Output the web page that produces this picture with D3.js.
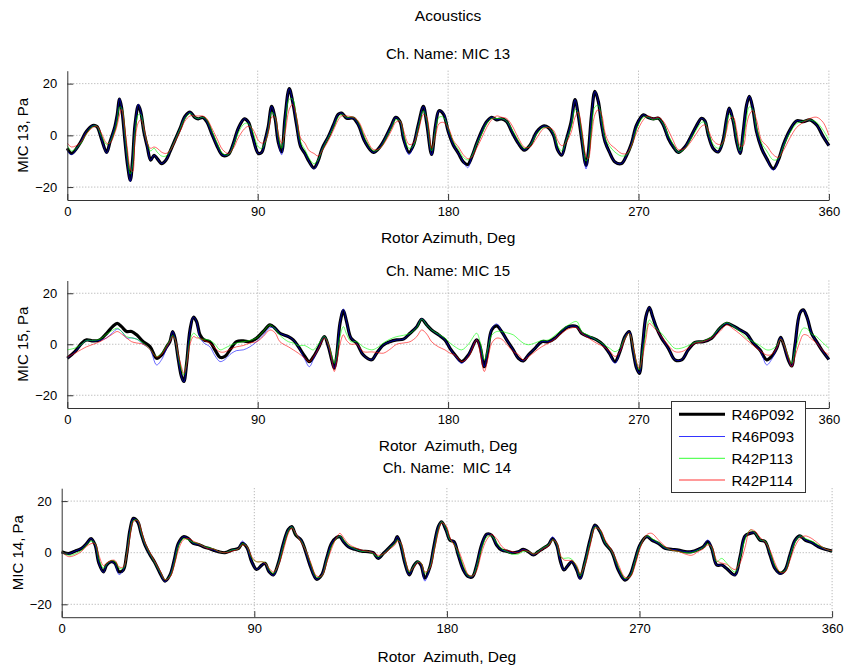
<!DOCTYPE html>
<html><head><meta charset="utf-8">
<script src="https://cdn.jsdelivr.net/npm/d3@7"></script>
<style>
body{margin:0;background:#fff}
text{font-family:"Liberation Sans",Arial,Helvetica,sans-serif;fill:#000}
</style>
</head><body>
<svg id="chart" width="848" height="666"></svg>
<script>
// ---------------- DATA ----------------
const seriesNames = ["R46P092","R46P093","R42P113","R42P114"];
const xTicks = [0,90,180,270,360];
const yTicks = [-20,0,20];

// MIC 13
const mic13Deg = [0,2,6,9,12,14,16,18.6,20.2,22.5,23.6,24.7,25.7,27.3,28.5,29.8,30.9,32,33.6,34.7,36.2,37.8,39.4,41,42.5,44.6,46.6,48.5,50.9,53.3,55.6,58,60.3,61.9,64,65.9,68.2,70.6,73.4,76.1,78.5,80.8,83.7,85.6,87.6,90.3,91.9,93.4,95,96.6,98.2,99.7,101.3,102.9,104.9,106.5,108.4,110.3,112.3,114.4,116.6,118.5,120.5,123.4,125.8,128.1,129.7,132.1,135.2,137.6,140.7,144.7,147.8,151,153.3,155.2,157.3,158.9,161.5,163.6,165.9,168.3,169.9,172.2,174.1,175.7,177.8,180.1,182.5,184.9,187.2,189.3,191.2,193.5,195.9,198.2,200.6,203,205.3,207.7,210.1,213.2,216,218.7,221.9,225,227.4,229.8,231.8,233.7,235.6,238.1,240,241.5,243.1,245.2,246.3,247.8,249.4,251,252.6,254.2,256.2,258.9,262,264.4,266.7,269.1,272.3,274.6,277,279.4,281.7,284.1,286.4,288.8,292,294.3,297.2,299.8,301.4,303,305.3,307.7,309.8,311.7,312.9,314.8,316.4,318,319.5,321.1,322.4,324,325.8,328.2,330.6,333.7,336.1,338.4,341.6,344.7,347.9,351,354.2,357.3,360];
const mic13R46P092 = [-5,-7,-3,1.5,3.8,3.4,-1,-6.6,-2.5,3.4, 8,14,10.5,-2.5,-11.6,-17.4,-9,4,11.6,9.2, 1.4,-4.4,-9.6,-7.7,-9,-10.9,-9.6,-6.4,-1.8,2.7, 7.3,9,6.9,6.4,6.9,5.3,0.8,-3.8,-7.7,-7.4, -3.1,2.7,6.4,5.1,-0.5,-7,-6.6,-2.2,3.4,11.2, 6.6,-2.5,-6.4,6.6,18.1,13.1,4,-4.4,-7,-10.3, -12.6,-10,-5,-0.5,4,8.2,8.6,6.6,6.6,4, -2.5,-6.6,-4.4,0.1,4,7,5.3,-1.2,-6.6,-3.8, 4,11.2,4.7,-7.4,4,9.5,8.2,1.4,-3.8,-7, -10.3,-11.3,-8.3,-3.1,1.7,5.3,7,6,6.4,5.3, 1.4,-3.1,-5.7,-3.8,1.4,3.6,3,0.1,-5.7,-7.7, -2.5,5,13.8,7.9,-1.2,-11.6,-6.4,7.9,17,13.1, 4,-2.5,-6.4,-10.3,-10.9,-7.7,-3.1,4,7.9,6.9, 6.4,6.6,4,-1.2,-4.4,-6.6,-4.4,-1.2,3.4,6.6, 5.6,0.1,-5.1,-6.4,-2.5,6.6,10.5,5.3,-2.5,-7, 1.4,11.8,15.1,10.5,1.4,-5.1,-9,-12.9,-9.6,-3.8, 2.1,5.6,5.3,6,4,-0.5,-4];
const mic13R46P093 = [-6,-7.5,-3,1.5,3.8,3.4,-1,-6.8,-2.5,3.4, 8,14.2,10.5,-2.5,-11.6,-17.8,-9,4,12,9.2, 1.4,-4.4,-9.6,-7.7,-9,-10.9,-9.6,-6.4,-1.8,2.7, 7.3,9,6.9,6.4,6.9,5.3,0.8,-3.8,-7.7,-7.4, -3.1,2.7,6.4,5.1,-0.5,-7,-6.6,-2.2,3.4,11.2, 6.6,-2.5,-7.5,6.6,18.1,13.1,4,-4.4,-7,-10.3, -13,-10,-5,-0.5,4,8.2,8.6,6.6,6.6,4, -2.5,-6.6,-4.4,0.1,4,7,5.3,-1.2,-7.5,-3.8, 4,11.2,4.7,-7.6,4,9.5,8.6,1.4,-3.8,-7, -10.3,-12.5,-8.3,-3.1,1.7,5.3,7,6,6.4,5.3, 1.4,-3.1,-5.7,-3.8,1.4,3.6,3,0.1,-5.7,-7.7, -2.5,5,13.8,7.9,-1.2,-13,-6.4,7.9,17,13.1, 4,-2.5,-6.4,-10.3,-10.9,-7.7,-3.1,4,7.9,6.9, 6.4,6.6,4,-1.2,-4.4,-6.6,-4.4,-1.2,3.4,6.6, 5.6,0.1,-5.1,-6.4,-2.5,6.6,10.5,5.3,-2.5,-7, 1.4,11.8,15.1,10.5,1.4,-5.1,-9,-13.5,-9.6,-3.8, 2.1,5.6,5.3,6,4,-0.5,-4];
const mic13R42P113 = [-4,-6,-3.5,0.5,3.5,3.5,0,-3.5,-2.5,2, 6,11,10.5,0,-9,-15,-11,1,8,8, 2,-3,-6,-5,-6.5,-8,-8,-6,-2,2.5, 6.5,8.5,7,6.5,7,6,2,-2.5,-7,-7.5, -4,1,4.5,4.5,1.5,-4.5,-5,-3,2,9, 7,0,-5,3,14,14,6,-2.5,-5.5,-9, -11,-9.5,-5.5,-1,3,7,8,7,7,5, -1,-6,-5,-0.5,3,6,5.5,0.5,-5,-4, 3,9.5,6,-6,2,7,7,2.5,-2.5,-5.5, -8.5,-9.5,-8,-3.5,0.5,4.5,6.5,6.5,6.5,5.5, 2.5,-2,-5,-4,0.5,3,3,1,-4,-6, -2.5,3,10,8.5,1,-10,-8,3,11,11.5, 6,-1,-4,-6.5,-8,-7.5,-4,2.5,7,7, 6,6.5,4.5,0,-3.5,-6.5,-5,-2,2,5, 5,1,-3.5,-5,-3,4,8,6,-1,-6, -2,7,11,10,3,-3,-6,-9.5,-9,-4.5, 1,4.5,5.5,6,5,2,-2];
const mic13R42P114 = [-3,-4.5,-3,0.5,3,3.5,1,-3,-3,1, 4,8,10,2,-6,-13,-14,-2,5,6, 3,-3,-5,-4.5,-5,-6.5,-7,-6,-2.5,1.5, 5.5,7.5,7.5,7.5,7.5,6.5,3,-1,-5.5,-7, -5,-1,2.5,3.5,2.5,-2,-3,-2.5,1,7, 7,1,-3,1,10,12,7,-1,-3,-6, -7,-8,-6,-2,2,6,7.5,7.5,7,5.5, 0,-5.5,-5,-1.5,2,5,5.5,2,-3.5,-3, 1.5,8,7,-5,0,4.5,5,3,-2,-4.5, -7.5,-9,-8.5,-5,-1,3,6,7.5,7,6.5, 4,-1,-4.5,-4.5,-1,2.5,3,2,-2,-4, -3,1,7,9,3,-8,-9,0,8,10, 8,1,-3,-5,-7,-7,-4,1,6,7.5, 6.5,7,5.5,2,-2,-5.5,-5,-3,0.5,3.5, 4,2,-2,-3.5,-3,2,6,7,2,-4, -4,4,8,9.5,6,-2,-4,-7.5,-8.5,-6, -1,3,5,6.5,7,5,0];

// MIC 15
const mic15Deg = [0,3.6,6.8,9.1,12.3,15.4,18.6,21.4,23.6,25.7,28,30.4,32.8,35.9,39.1,42.2,44.6,47,48.5,49.8,50.9,52.5,54,55.1,56.4,58,59.6,61.1,62.7,64.6,67.4,69.8,72.2,74.5,76.9,80,83.2,86.3,89.5,92.6,95.8,98.2,100.5,104.5,106.8,109.2,112.3,114.4,116.3,118.6,121.5,123.4,125,126.2,127.3,128.9,130.5,132,134.1,136.8,139.9,143.9,146.2,149.4,152.5,155.7,158.9,162,165.2,167.5,169.9,172.2,175.4,178.5,180.9,183.3,186.4,189.6,193.5,195.1,197.1,198.7,200.6,203,205.3,207.7,210.8,213.2,215.6,217.9,221.1,224.2,227.4,230.5,233.7,236.8,240.8,243.1,246.3,250.2,253.4,256.2,258.9,261.2,263.6,265.6,267.5,269.1,270.4,271.9,273.5,275.1,276.7,278.6,280.9,284.1,287.2,290.4,293.5,296.7,300.6,304.6,308.5,311.7,314.8,318,321.1,324.3,327.4,330.6,332.9,335.3,337.2,338.4,340.8,342.4,343.9,346.3,347.9,349.8,351.8,354.2,356.6,360];
const mic15R46P092 = [-5.5,-2.9,0.4,1.7,1.3,1.7,4.3,6.9,8.2,6.9, 5,5,3.7,1,-0.9,-5.5,-4.2,-0.9,1,5, 2.4,-6.1,-12.7,-14.6,-7.5,5.6,10.6,8.9,3.7,1.7, 1,-2.2,-5.1,-4.8,-2.2,1,1.3,1,2.4,5, 7.6,6.3,4.3,3,1.7,-0.9,-4.8,-6.8,-5,-1.6, 3,-0.9,-6.1,-9.4,-4.8,8.2,13.2,8.9,2.4,0.4, -4.2,-6.1,-3.5,-0.3,1,1.7,2,4.3,6.9,9.8, 7.6,5.6,3.7,1.7,-1.6,-4.2,-6.8,-4.2,1.7,-0.9, -8.8,-2.9,5.6,7.2,5,1.7,-2.2,-5.5,-6.5,-4.2, -1.6,1,1,2.4,5,6.9,6.9,4.3,3,1.7, -0.3,-3.5,-6.8,-2.9,3,5,-2.9,-9.4,-11.4,-0.9, 10.8,14.5,10.8,6.3,2.4,-1.6,-6.1,-6.1,-2.2,0.7, 1,2.4,6.3,8.2,7.2,5.6,4.1,0.4,-2.2,-6.1, -4.8,-1.6,2.7,0.4,-6.1,-8.5,-0.9,12.2,13.5,10.2, 4.3,1,-2.2,-6];
const mic15R46P093 = [-5.5,-3,0,1.5,1.3,1.5,2.5,4.5,6,5, 2.5,2.5,2,0,-2,-8.1,-6,-1.5,1,5, 2.4,-6.1,-12.9,-14.8,-7.5,5.6,10.6,8.9,2.5,0.5, -1,-4.5,-6.8,-6,-4,-2.5,-2.2,-1,1,3.5, 6.5,6.3,4.3,3,1.7,-0.9,-6,-8.8,-6,-1.6, 3,-0.9,-6.1,-9.4,-4.8,8.5,13.8,8.9,2.4,0.4, -4.2,-6.1,-3.5,-0.3,1,1.7,2,4.3,7,10, 7.6,5.6,3.7,1.7,-1.6,-4.5,-7.5,-4.2,1.7,-0.9, -8.8,-2.9,6,8,5,1.7,-2.2,-5.5,-6.5,-4.2, -1.6,1,1,2.4,5,6.9,6.9,4.3,3,1.7, -0.3,-3.5,-7.5,-2.9,3,5,-2.9,-9.4,-11.4,-0.9, 10.8,14.5,10.8,6.3,2.4,-1.6,-6.1,-6.1,-2.2,0.7, 1,2.4,6.3,8.2,7.2,5.6,4.1,0.4,-2.2,-8.1, -6,-1.6,2.7,0.4,-6.1,-8.5,-0.9,12.2,13.5,10.2, 4.3,1,-2.2,-6];
const mic15R42P113 = [-2.2,-1.5,0,1.5,1.5,2,4,5.5,6.3,5, 3,2.5,2,0.5,-2,-4.8,-3.5,-0.5,1.5,3.5, 2,-5,-10,-12,-7,1.5,4.3,3.5,2,2, 1.5,0,-2.2,-1.5,-0.5,0.5,1,1.5,2.5,5, 7.6,6,3.5,1,0.5,-0.5,-0.5,-1.5,-2.2,0, 3,0,-4.5,-7.5,-4,3,6.9,4,1,1, -1,-2.2,-1.5,0.5,2,3,3.5,4.3,6.5,9.8, 7.5,5.6,4,2.4,0.5,-1,-2.2,0,4.3,1, -6.1,-2,3.5,5,5,4.5,3.7,2,0.4,-0.2, 0.5,1.5,1.7,3.5,5.6,7.5,8.9,5,3.5,1.7, 0,-1.5,-2.9,-1.5,2.5,4.3,-1.5,-7.5,-10,-3, 4,9.5,8,6,4.3,1,-1.6,-1.5,-0.5,0.8, 1.2,3,6.5,8.5,7,5,2.4,1,-0.5,-2.2, -2,-0.5,2,0.5,-4.5,-7.5,-3,4,6.3,6, 4,3,1,-1.6];
const mic15R42P114 = [-5,-3.5,-2,-1,0,1,2.5,4,5,4, 2.5,1,0.5,0,-2,-5,-4,-1,1,3, 2,-4,-9,-11.4,-8,0,3,2.5,2.4,1.5, 0.5,-1.5,-3,-3,-2,-1,-0.5,0.5,1,3, 5.6,4.5,1,-1,-2.2,-3.5,-5.5,-6.8,-5,-2, 2.4,0,-6,-10.7,-7,0,3.7,1.5,0,0, -2.9,-3,-3.2,-3.5,-2,0,0.5,1,3,5.6, 4,1,-1,-2.2,-3.5,-4.2,-6.8,-5,1.7,-3, -10.7,-6,0.4,2.4,2,0,-2.9,-4,-6.2,-5, -2.9,-1,0.4,2,4.3,6,6.5,4.3,2.5,0.4, -0.9,-2.5,-4.8,-3,2,4.3,-1,-7,-9.4,-5, 2,8.2,7,5.5,3,-0.5,-2.9,-2.9,-1.5,0.4, 1,2.4,5,7.6,6,4,1.7,-0.5,-2.5,-4.2, -4,-1.5,2,0.5,-5,-8.8,-5,1,3.7,3.5, 2,0.5,-2,-4.2];

// MIC 14
const mic14Deg = [0,3.1,6.2,9.3,11.7,13.7,15.6,17.4,19.5,21,23.1,24.9,26.8,28.8,30.4,31.9,33.5,35.5,37.1,38.9,41.3,43.3,46,48.3,50.6,52.6,54.5,56.9,59.2,61.5,63.9,66.2,68.5,70.9,73.2,76.3,79.4,82.6,84.4,86.5,88.8,91.1,93.5,95,96.9,98.9,101.2,103.6,105.9,107.5,109.4,111.9,114,116,119.1,121.5,123.8,126.1,128.5,130,131.6,133.9,137,140.1,143.3,145.6,147.9,150.3,153.4,155.7,156.8,158.4,160.4,162.4,164.3,166.2,167.9,169.7,172.1,173.9,176,177.5,179.6,181.4,183.3,185.3,187.7,190,192,193.9,196.2,198.6,200.9,203.2,205.6,207.9,210.2,213.4,215.7,218,220.4,222.7,225,227.4,229.4,231.3,233.1,234.7,236.7,238.3,240.7,242.2,244.5,246.9,249.2,251.6,253.9,257,260.1,263.2,265.6,267.9,270.2,273.4,275.7,278.8,281.9,285,288.2,291.3,294.4,297.5,299.8,301.9,303.7,306.1,308.4,310.7,314.6,317,319.3,321.7,323.7,326.3,328.7,331,333.3,335.7,338,340.3,342.7,345,347.4,350.5,353.6,356.7,360];
const mic14R46P092 = [0.4,-0.3,0.6,1.7,3.6,5.5,3,-4.1,-7.4,-4.8, -3.5,-4.1,-7.4,-6.7,-0.3,8.8,13.3,12,7.5,3, -0.9,-3.5,-8,-11,-8.6,-2.8,3.6,6.2,5.5,3.6, 3.2,2.3,1.7,1,0.4,0,1,1.7,3.6,2.1, -3.5,-6.5,-4.8,-4.1,-7.4,-8.6,-4.1,3.6,9,10.1, 6.8,4.9,0.4,-4.8,-10.3,-8.6,-2.2,3.6,5.9,6.2, 4.3,2.3,1.3,0.6,0.4,0,-2.2,-0.3,2.3,4.3, 6.2,3,-4.1,-8.6,-5.4,-3.5,-4.8,-9.9,-5.4,2.3, 10.1,12,8.8,4.9,4.3,-0.9,-6.7,-9.3,-9.3,-4.8, 3,7.2,6.8,3,1,0.6,0,0.4,1.3,0.4, -0.9,0.4,1.7,3,5.5,3,-3.5,-6.7,-4.8,-3.5, -6.7,-9.9,-3.5,4.9,10.7,8.1,3.6,0.4,-6.7,-10.6, -8.6,-2.8,3,6.2,4.9,3.6,1.7,1.3,1,0.4, 0.4,1.3,2.3,4.3,1.7,-4.8,-4.8,-6.1,-8.6,-1.5, 6.5,7.5,7.7,4.9,4.3,-0.9,-6.1,-8,-6.7,-0.9, 4.9,6.5,4.9,3.9,2.3,1.3,0.6];
const mic14R46P093 = [0.2,-0.5,0.6,1.7,3.6,5.5,3,-4.1,-7.6,-4.8, -3.5,-4.5,-8.5,-6.7,-0.3,8.8,13.3,12,7.5,3, -0.9,-3.5,-8,-11.2,-8.6,-2.8,3.6,6.2,5.5,3.6, 3.2,2.3,1.7,1,0.4,0,1,1.7,4.5,2.1, -3.5,-6.5,-4.8,-4.1,-7.4,-8.8,-4.1,3.6,9,10.1, 7.2,4.9,0.4,-4.8,-10.3,-8.6,-2.2,3.6,5.9,6.2, 4.3,2.3,1.3,0.6,0.4,0,-2.2,-0.3,2.3,4.3, 6.2,3,-4.1,-8.6,-5.4,-3.5,-4.8,-11,-5.4,2.3, 10.1,12,8.8,4.9,4.3,-0.9,-6.7,-9.3,-9.3,-4.8, 3,7.2,6.8,3,1,0.6,0,0.4,1.3,0.4, -0.9,0.4,1.7,3,6.2,3,-3.5,-6.7,-4.8,-3.5, -6.7,-10.3,-3.5,4.9,10.7,8.1,3.6,0.4,-6.7,-10.6, -8.6,-2.8,3,6.2,4.9,3.6,1.7,1.3,1,0.4, 0.4,1.3,2.3,5,1.7,-4.8,-4.8,-6.1,-8.8,-1.5, 6.5,7.5,7.7,4.9,4.3,-0.9,-6.1,-8.3,-6.7,-0.9, 4.9,6.5,4.9,3.9,2.3,1.3,0.6];
const mic14R42P113 = [0.5,-1,-0.5,1,3,4.5,3.5,-2.5,-6,-4.5, -3,-3.5,-6,-6,-0.5,7.5,12.5,12.5,8,3.5, -0.5,-3.5,-7.5,-10.5,-9,-4,2.5,5.5,5,4, 3.5,2.5,2,1.5,0.5,0,1,1.5,3.5,2.5, -2,-3.5,-3.5,-3.8,-6.5,-8,-4.5,2.5,8.5,10, 7,4.5,1,-3.5,-9.5,-9,-3,2.5,5.5,6.5, 5,3,1.5,0.5,0.5,-0.5,-1.5,-0.5,2,3.5, 5,3.5,-3,-7.5,-5.5,-3.5,-4,-8,-5.5,1, 9,12,9.5,5,3.5,0,-5,-9,-9,-5.5, 1.5,6,6.5,4,1.5,0.5,-0.5,-0.5,0.5,0.5, -0.5,0.5,2,3,5,3.5,-1.5,-2.2,-2,-2.5, -5.5,-9,-4,4,10,8.5,4,0.5,-5.5,-10, -9,-3.5,2.5,6.5,5.5,4,2,1,0.5,0, 0,1,2,3.5,2,-3.5,-2.2,-4,-7.5,-2, 5,8.8,8,5,4.5,0,-5,-7.5,-7,-1.5, 4,6.5,5.5,4.5,3,1.5,0.6];
const mic14R42P114 = [0.5,-1.5,-1,0.5,2.5,3.5,3.5,-1,-5,-4, -3,-3,-5.5,-5.5,-1,6,12,12.5,9,4, 0,-3,-7,-10.5,-9.5,-5,1,5,5.5,4.5, 3.5,2.5,1.5,1.5,0.5,0,0.5,1.5,3,2.5, -1.5,-3.5,-3.5,-4,-6,-7.5,-5,1,7.5,9.5, 7.5,4,1,-3,-9,-9,-4,1.5,6,7.5, 6,3.5,2,1,0.5,0,-1,-0.5,1.5,3, 4.5,4,-2,-7,-6,-4,-4,-7.5,-6,0, 8,11.5,10.5,6,3,1,-4,-8.5,-9,-7, 0,5,7,5.5,2.5,1,0.5,0,1,0.5, -0.5,0,1.5,2.5,4.9,4,-1,-2.8,-3,-3, -5,-8,-5,2.5,9.5,9,5,1,-4.5,-9.5, -9.5,-5,1.5,7,7.5,5,2.5,1,0.5,-0.5, -1,0.5,1.5,3,2.5,-3,-4,-4.5,-6.5,-4, 2,8.8,8.5,6,4,1,-4,-7.5,-7.5,-3, 2.5,5.5,6.5,5.5,3.5,1.5,0.8];

// ---------------- LAYOUT / STYLE ----------------
const seriesColors = ["#000000","#0000ff","#00ff00","#ff0000"];
const seriesWidths = [3.2, 0.6, 0.6, 0.6];

const panels = [
  {title:"Ch. Name: MIC 13", ylabel:"MIC 13, Pa", xlabel:"Rotor Azimuth, Deg",
   deg:mic13Deg, vals:[mic13R46P092,mic13R46P093,mic13R42P113,mic13R42P114],
   x0:67.3, x1:828.9, yTop:70.7, yBot:200, titleY:53, xlabY:237, ylabX:22},
  {title:"Ch. Name: MIC 15", ylabel:"MIC 15, Pa", xlabel:"Rotor  Azimuth, Deg",
   deg:mic15Deg, vals:[mic15R46P092,mic15R46P093,mic15R42P113,mic15R42P114],
   x0:67.3, x1:828.9, yTop:280.5, yBot:408, titleY:270, xlabY:445, ylabX:22},
  {title:"Ch. Name:  MIC 14", ylabel:"MIC 14, Pa", xlabel:"Rotor  Azimuth, Deg",
   deg:mic14Deg, vals:[mic14R46P092,mic14R46P093,mic14R42P113,mic14R42P114],
   x0:61.7, x1:832.1, yTop:488.2, yBot:617.2, titleY:467, xlabY:656, ylabX:17}
];

const svg = d3.select("#chart");
svg.append("rect").attr("width",848).attr("height",666).attr("fill","#fff");

svg.append("text").attr("x",448).attr("y",15).attr("text-anchor","middle")
  .attr("dominant-baseline","central").style("font-size","15.5px").text("Acoustics");

panels.forEach(p => {
  const g = svg.append("g");
  const x = d3.scaleLinear().domain([0,360]).range([p.x0,p.x1]);
  const y = d3.scaleLinear().domain([-25,25]).range([p.yBot,p.yTop]);

  // grid
  g.selectAll(".hg").data(yTicks).join("line")
    .attr("x1",p.x0).attr("x2",p.x1).attr("y1",d=>y(d)).attr("y2",d=>y(d))
    .attr("stroke","#a8a8a8").attr("stroke-width",1).attr("stroke-dasharray","1,2");
  g.selectAll(".vg").data(xTicks.filter(d=>d>0)).join("line")
    .attr("x1",d=>x(d)).attr("x2",d=>x(d)).attr("y1",p.yTop).attr("y2",p.yBot)
    .attr("stroke","#a8a8a8").attr("stroke-width",1).attr("stroke-dasharray","1,2");

  // series
  const line = d3.line().x((d,i)=>x(p.deg[i])).y(d=>y(d)).curve(d3.curveCatmullRom.alpha(0.5));
  p.vals.forEach((vals,si) => {
    g.append("path").datum(vals).attr("d",line).attr("fill","none")
      .attr("stroke",seriesColors[si]).attr("stroke-width",seriesWidths[si])
      .attr("stroke-linejoin","round");
  });

  // axes
  const xa = g.append("g").attr("transform",`translate(0,${p.yBot})`)
    .call(d3.axisBottom(x).tickValues(xTicks).tickSizeInner(-6).tickSizeOuter(0).tickPadding(7));
  const ya = g.append("g").attr("transform",`translate(${p.x0},0)`)
    .call(d3.axisLeft(y).tickValues(yTicks).tickSizeInner(-6).tickSizeOuter(0).tickPadding(10));
  [xa,ya].forEach(a=>{
    a.select(".domain").attr("stroke","#333");
    a.selectAll(".tick line").attr("stroke","#333");
    a.selectAll(".tick text").style("font-size","13px").style("font-family","'Liberation Sans',Arial,sans-serif").attr("fill","#000");
  });

  // titles and labels
  g.append("text").attr("x",(p.x0+p.x1)/2).attr("y",p.titleY).attr("text-anchor","middle")
    .attr("dominant-baseline","central").style("font-size","15px").style("white-space","pre").text(p.title);
  g.append("text").attr("x",(p.x0+p.x1)/2).attr("y",p.xlabY).attr("text-anchor","middle")
    .attr("dominant-baseline","central").style("font-size","15.5px").style("white-space","pre").text(p.xlabel);
  g.append("text").attr("transform",`translate(${p.ylabX},${(p.yTop+p.yBot)/2}) rotate(-90)`)
    .attr("text-anchor","middle").attr("dominant-baseline","central").style("font-size","15px").text(p.ylabel);
});

// legend
const lg = svg.append("g");
lg.append("rect").attr("x",671.5).attr("y",401.5).attr("width",134).attr("height",91)
  .attr("fill","#fff").attr("stroke","#333").attr("stroke-width",1);
const legY = [414.3,436.5,458.3,480];
seriesNames.forEach((n,i)=>{
  lg.append("line").attr("x1",679).attr("x2",725).attr("y1",legY[i]).attr("y2",legY[i])
    .attr("stroke",seriesColors[i]).attr("stroke-width",i===0?3:0.8);
  lg.append("text").attr("x",731.5).attr("y",legY[i]).attr("dominant-baseline","central")
    .style("font-size","15px").text(n);
});
</script>
</body></html>
